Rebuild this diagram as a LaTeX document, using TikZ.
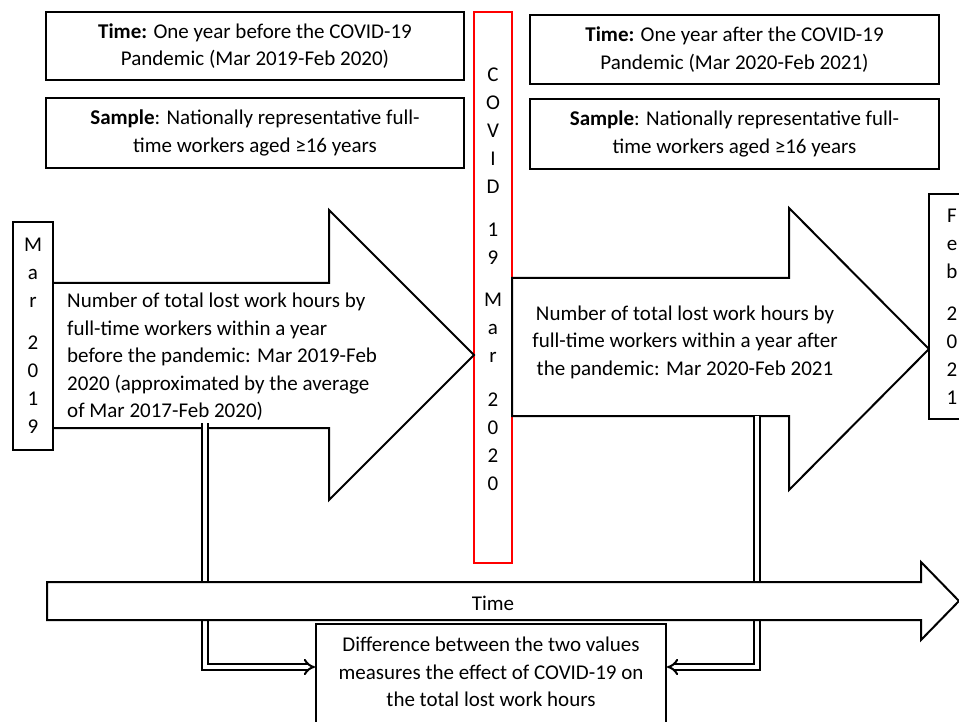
\documentclass[tikz,border=0pt]{standalone}
\usepackage{fontspec}
\setmainfont{Carlito}
\usetikzlibrary{arrows.meta}

\begin{document}
\begin{tikzpicture}[x=1pt, y=-1pt,
    every node/.style={font=\fontsize{21}{27.5}\selectfont, inner sep=0pt},
    infobox/.style={draw, line width=2pt, align=center},
    datebox/.style={draw, line width=2pt, fill=white, align=center, font=\fontsize{21}{28}\selectfont},
    bigarrow/.style={draw, line width=2pt, fill=white, line join=miter},
    link/.style={double, double distance=3.4pt, line width=2pt, -{Implies[length=8pt, width=18pt]}, line join=miter}]
  \useasboundingbox (0,0) rectangle (959,722);
  \clip (0,0) rectangle (959,722);
  % top boxes
  \node[infobox, minimum width=418, minimum height=68] (timebefore) at (255,46)
    {\textbf{Time:} One year before the COVID-19\\Pandemic (Mar 2019-Feb 2020)};
  \node[infobox, minimum width=418, minimum height=70] (samplebefore) at (255,133)
    {\textbf{Sample}: Nationally representative full-\\time workers aged ≥16 years};
  \node[infobox, minimum width=409, minimum height=69] (timeafter) at (734.5,49.5)
    {\textbf{Time:} One year after the COVID-19\\Pandemic (Mar 2020-Feb 2021)};
  \node[infobox, minimum width=409, minimum height=70] (sampleafter) at (734.5,134)
    {\textbf{Sample}: Nationally representative full-\\time workers aged ≥16 years};
  % COVID-19 line
  \node[draw=red, line width=2pt, minimum width=38, minimum height=551] (covid) at (493,287.5) {};
  \node[align=center, font=\fontsize{21}{28}\selectfont] (covidtxt) at (493,279)
    {C\\O\\V\\I\\D\\[15pt]1\\9\\[14pt]M\\a\\r\\[16pt]2\\0\\2\\0};
  % before and after arrows
  \draw[bigarrow] (53,283) -- (329,283) -- (329,210) -- (474,355) -- (329,500) -- (329,428) -- (53,428);
  \draw[bigarrow] (512,278) -- (789,278) -- (789,208) -- (929,349) -- (789,490) -- (789,416) -- (512,416) -- cycle;
  \node[anchor=west, align=left] (lostbefore) at (67,357)
    {Number of total lost work hours by\\full-time workers within a year\\before the pandemic: Mar 2019-Feb\\2020 (approximated by the average\\of Mar 2017-Feb 2020)};
  \node[align=center] (lostafter) at (685,342)
    {Number of total lost work hours by\\full-time workers within a year after\\the pandemic: Mar 2020-Feb 2021};
  % start and end months
  \node[datebox, minimum width=40, minimum height=228] (mar19) at (33,336)
    {M\\a\\r\\[14pt]2\\0\\1\\9};
  \node[datebox, minimum width=46, minimum height=225] (feb21) at (952,306.5)
    {F\\e\\b\\[14pt]2\\0\\2\\1};
  % difference box
  \node[draw, line width=2pt, minimum width=350, minimum height=120, anchor=north] (diff) at (491,623) {};
  \node[align=center] (difftxt) at (491,672)
    {Difference between the two values\\measures the effect of COVID-19 on\\the total lost work hours};
  % links
  \coordinate (lout)  at (205,423);
  \coordinate (ljoin) at (205,667);
  \coordinate (rout)  at (757,416);
  \coordinate (rjoin) at (757,667);
  \draw[link] (lout) -- (ljoin) -- (ljoin -| diff.west);
  \draw[link] (rout) -- (rjoin) -- (rjoin -| diff.east);
  % time axis
  \draw[bigarrow] (47,582) -- (921,582) -- (921,562) -- (959,601) -- (921,640) -- (921,620) -- (47,620) -- cycle;
  \node (timelbl) at (493,603) {Time};
\end{tikzpicture}
\end{document}
